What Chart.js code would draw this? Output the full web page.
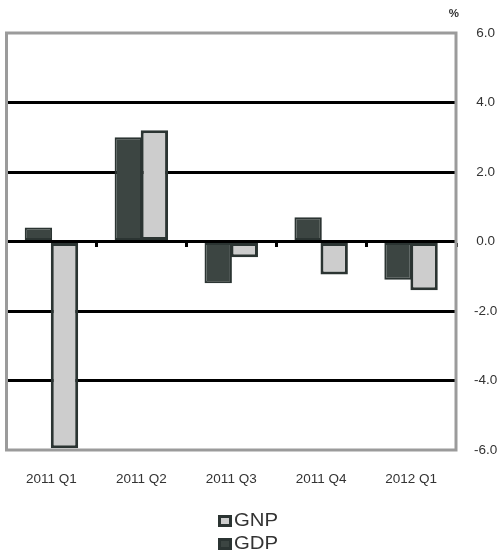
<!DOCTYPE html>
<html>
<head>
<meta charset="utf-8">
<script src="https://cdn.jsdelivr.net/npm/chart.js@4/dist/chart.umd.min.js"></script>
<style>
  html, body { margin: 0; padding: 0; background: #fff; }
  #wrap { position: relative; width: 501px; height: 556px; overflow: hidden; }
  #chart { position: absolute; left: 0; top: 0; }
  #legend { position: absolute; left: -5px; top: 509px; width: 501px;
            font-family: "Liberation Sans", Arial, sans-serif; font-size: 18px; color: #333; }
  #legend ul { list-style: none; margin: 0; padding: 0; display: flex; flex-direction: column; align-items: center; }
  #legend li { display: flex; align-items: center; height: 23px; line-height: 23px; }
  #legend .box { display: inline-block; width: 14px; height: 12px; box-sizing: border-box;
                 border: 3px solid; margin-right: 2px; }
  #legend .txt { display: inline-block; transform: scaleX(1.13); transform-origin: left center; }
</style>
</head>
<body>
<div id="wrap">
  <canvas id="chart" width="501" height="556"></canvas>
  <div id="legend"></div>
</div>
<script>
// Quarterly growth, per cent
const categories = ['2011 Q1', '2011 Q2', '2011 Q3', '2011 Q4', '2012 Q1'];
const gdpValues = [0.4, 3.0, -1.2, 0.7, -1.1];
const gnpValues = [-5.95, 3.2, -0.45, -0.95, -1.4];
const yTickValues = [-6, -4, -2, 0, 2, 4, 6];

const FONT = '"Liberation Sans", Arial, sans-serif';
const DARK = '#2b3432';

// grey frame round the plotting area
const framePlugin = {
  id: 'frame',
  afterDatasetsDraw(chart) {
    const { ctx, chartArea: a } = chart;
    ctx.save();
    ctx.strokeStyle = '#9b9b9b';
    ctx.lineWidth = 3;
    ctx.strokeRect(a.left, a.top, a.right - a.left, a.bottom - a.top);
    ctx.restore();
  }
};

// unit marker above the value axis
const unitPlugin = {
  id: 'unit',
  afterDraw(chart) {
    const { ctx, chartArea: a } = chart;
    ctx.save();
    ctx.font = 'bold 11.5px ' + FONT;
    ctx.fillStyle = '#333';
    ctx.textAlign = 'right';
    ctx.textBaseline = 'middle';
    ctx.fillText('%', a.right + 3, a.top - 19.5);
    ctx.restore();
  }
};

// legend as a list below the chart, one series per row
const htmlLegendPlugin = {
  id: 'htmlLegend',
  afterUpdate(chart) {
    const host = document.getElementById('legend');
    host.innerHTML = '';
    const ul = document.createElement('ul');
    const items = Chart.defaults.plugins.legend.labels.generateLabels(chart).slice().reverse();
    items.forEach(item => {
      const li = document.createElement('li');
      const box = document.createElement('span');
      box.className = 'box';
      box.style.background = item.fillStyle;
      box.style.borderColor = DARK;
      const txt = document.createElement('span');
      txt.className = 'txt';
      txt.textContent = item.text;
      li.appendChild(box);
      li.appendChild(txt);
      ul.appendChild(li);
    });
    host.appendChild(ul);
  }
};

new Chart(document.getElementById('chart'), {
  type: 'bar',
  data: {
    labels: categories,
    datasets: [
      {
        label: 'GDP',
        data: gdpValues,
        backgroundColor: '#3c4542',
        borderColor: DARK,
        borderWidth: 2,
        borderSkipped: false
      },
      {
        label: 'GNP',
        data: gnpValues,
        backgroundColor: '#cdcdcd',
        borderColor: DARK,
        borderWidth: 3,
        borderSkipped: false
      }
    ]
  },
  options: {
    responsive: false,
    devicePixelRatio: 1,
    animation: false,
    layout: { padding: { top: 33, left: 6.5, right: 0, bottom: 0 } },
    datasets: { bar: { categoryPercentage: 0.58, barPercentage: 1.05 } },
    plugins: {
      legend: { display: false },
      tooltip: { enabled: false }
    },
    scales: {
      x: {
        type: 'category',
        offset: true,
        grid: { display: false, offset: true },
        border: { display: false },
        ticks: { padding: 13, color: '#333', font: { family: FONT, size: 13.5 }, maxRotation: 0 },
        afterFit(scale) { scale.height = 106; }
      },
      y: {
        position: 'right',
        min: -6,
        max: 6,
        afterBuildTicks(scale) { scale.ticks = yTickValues.map(v => ({ value: v })); },
        grid: {
          drawTicks: false,
          lineWidth: 3,
          color: c => (Math.abs(c.tick.value) === 6 ? 'rgba(0,0,0,0)' : '#000')
        },
        border: { display: false },
        ticks: {
          padding: 18,
          crossAlign: 'center',
          color: '#333',
          font: { family: FONT, size: 13.5 },
          callback: v => Number(v).toFixed(1)
        },
        afterFit(scale) { scale.width = 45; }
      },
      // zero line with small marks between the quarters, drawn over the bars
      x0: {
        type: 'category',
        position: { y: 0 },
        offset: true,
        z: 1,
        grid: {
          display: true,
          offset: true,
          drawOnChartArea: false,
          drawTicks: true,
          tickLength: 4,
          tickWidth: 3,
          tickColor: c => (c.index === 0 || c.index === categories.length ? 'rgba(0,0,0,0)' : '#000')
        },
        border: { display: true, color: '#000', width: 3 },
        ticks: { display: false }
      }
    }
  },
  plugins: [framePlugin, unitPlugin, htmlLegendPlugin]
});
</script>
</body>
</html>
